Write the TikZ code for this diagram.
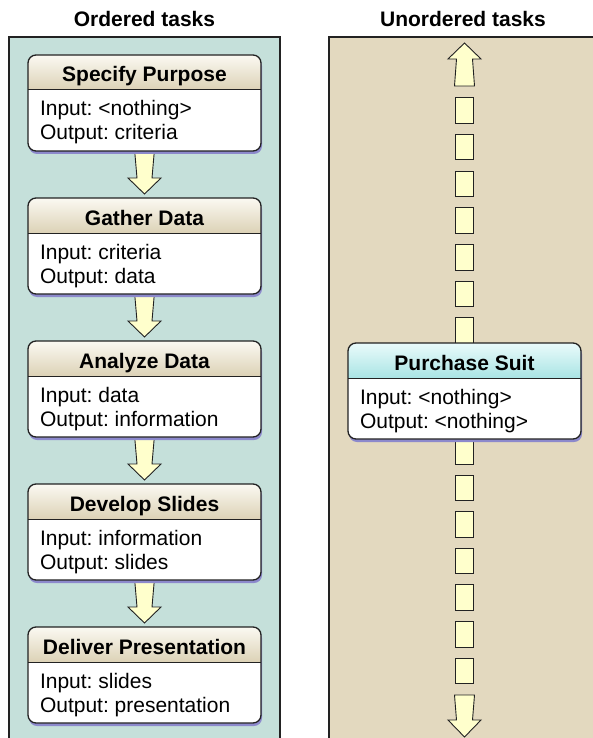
\documentclass[tikz,border=0pt]{standalone}
\usepackage{fontspec}
\setmainfont{Liberation Sans}
\usetikzlibrary{calc}
\definecolor{tealbg}{HTML}{C5E0DA}
\definecolor{beigebg}{HTML}{E3D9BF}
\definecolor{shadowc}{HTML}{8C89CC}
\definecolor{hdrtop}{HTML}{FBF9F2}
\definecolor{hdrbot}{HTML}{DCD2B6}
\definecolor{cyantop}{HTML}{EAFBFB}
\definecolor{cyanbot}{HTML}{A9E4E4}
\definecolor{arrowfill}{HTML}{FFFFCC}
\definecolor{outline}{HTML}{222222}
\pgfdeclarelayer{panels}
\pgfdeclarelayer{arrows}
\pgfsetlayers{panels,arrows,main}
\tikzset{
  every node/.style={inner sep=0pt, outer sep=0pt},
  panel/.style={draw=outline, line width=1.6pt},
  blockarrow/.style={draw=outline, fill=arrowfill, line width=0.9pt, line join=miter},
  dashbox/.style={draw=outline, fill=arrowfill, line width=0.9pt},
  taskframe/.style={draw=outline, line width=1.3pt, rounded corners=8pt,
    minimum width=233pt, minimum height=96pt, anchor=north west},
  tasktitle/.style={anchor=base, font=\bfseries},
  taskline/.style={anchor=base west},
  paneltitle/.style={anchor=base, font=\bfseries},
}
\newcommand\taskbox[8]{%
  \fill[shadowc, rounded corners=8pt] (#2+1,#3+3) rectangle (#2+234,#3+99);
  \fill[white, rounded corners=8pt] (#2,#3) rectangle (#2+233,#3+96);
  \begin{scope}
    \clip[rounded corners=8pt] (#2,#3) rectangle (#2+233,#3+96);
    \shade[top color=#7, bottom color=#8] (#2,#3) rectangle (#2+233,#3+35);
  \end{scope}
  \draw[outline, line width=1pt] (#2,#3+35) -- (#2+233,#3+35);
  \node[taskframe] (#1) at (#2,#3) {};
  \node[tasktitle] (#1-title) at (#2+116.5,#3+27) {#4};
  \node[taskline] (#1-in) at (#2+12,#3+61) {#5};
  \node[taskline] (#1-out) at (#2+12,#3+85) {#6};
}
\newcommand\flowarrow[2]{%
  \begin{pgfonlayer}{arrows}
  \filldraw[blockarrow] ($(#1.south)+(-10,-2)$) -- ($(#2.north)+(-7.5,-20)$)
    -- ($(#2.north)+(-16.5,-20)$) -- ($(#2.north)+(0,-4)$)
    -- ($(#2.north)+(16.5,-20)$) -- ($(#2.north)+(7.5,-20)$)
    -- ($(#1.south)+(10,-2)$) -- cycle;
  \end{pgfonlayer}
}
\frenchspacing
\begin{document}
\begin{tikzpicture}[x=1pt, y=-1pt]
\fontsize{21}{24}\selectfont
\useasboundingbox (0,0) rectangle (592,738);
\begin{pgfonlayer}{panels}
  \fill[white] (0,0) rectangle (592,738);
  \filldraw[panel, fill=tealbg] (9,37) rectangle (280,750);
  \filldraw[panel, fill=beigebg] (329,37) rectangle (610,750);
\end{pgfonlayer}
\node[paneltitle] (lefttitle) at (144.5,27) {Ordered tasks};
\node[paneltitle] (righttitle) at (463,27) {Unordered tasks};

\taskbox{t1}{28}{55}{Specify Purpose}{Input: <nothing>}{Output: criteria}{hdrtop}{hdrbot}
\taskbox{t2}{28}{198}{Gather Data}{Input: criteria}{Output: data}{hdrtop}{hdrbot}
\taskbox{t3}{28}{341}{Analyze Data}{Input: data}{Output: information}{hdrtop}{hdrbot}
\taskbox{t4}{28}{484}{Develop Slides}{Input: information}{Output: slides}{hdrtop}{hdrbot}
\taskbox{t5}{28}{627}{Deliver Presentation}{Input: slides}{Output: presentation}{hdrtop}{hdrbot}

\flowarrow{t1}{t2}
\flowarrow{t2}{t3}
\flowarrow{t3}{t4}
\flowarrow{t4}{t5}

\taskbox{suit}{348}{343}{Purchase Suit}{Input: <nothing>}{Output: <nothing>}{cyantop}{cyanbot}

\coordinate (uptip) at (464.5,43);
\coordinate (downtip) at (464.5,737);
\begin{pgfonlayer}{arrows}
  \filldraw[blockarrow] (uptip) -- ($(uptip)+(16.5,16)$) -- ($(uptip)+(8,16)$)
    -- ($(uptip)+(10,43)$) -- ($(uptip)+(-10,43)$) -- ($(uptip)+(-8,16)$)
    -- ($(uptip)+(-16.5,16)$) -- cycle;
  \filldraw[blockarrow] (downtip) -- ($(downtip)+(16.5,-17)$) -- ($(downtip)+(8,-17)$)
    -- ($(downtip)+(10,-42)$) -- ($(downtip)+(-10,-42)$) -- ($(downtip)+(-8,-17)$)
    -- ($(downtip)+(-16.5,-17)$) -- cycle;
  \foreach \k in {0,...,6} {
    \filldraw[dashbox] ($(uptip)+(-8.8,54.7+36.7*\k)$) rectangle ($(uptip)+(8.8,80.2+36.7*\k)$);
    \filldraw[dashbox] ($(suit.south)+(-8.8,-0.5+36.6*\k)$) rectangle ($(suit.south)+(8.8,25+36.6*\k)$);
  }
\end{pgfonlayer}
\end{tikzpicture}
\end{document}
